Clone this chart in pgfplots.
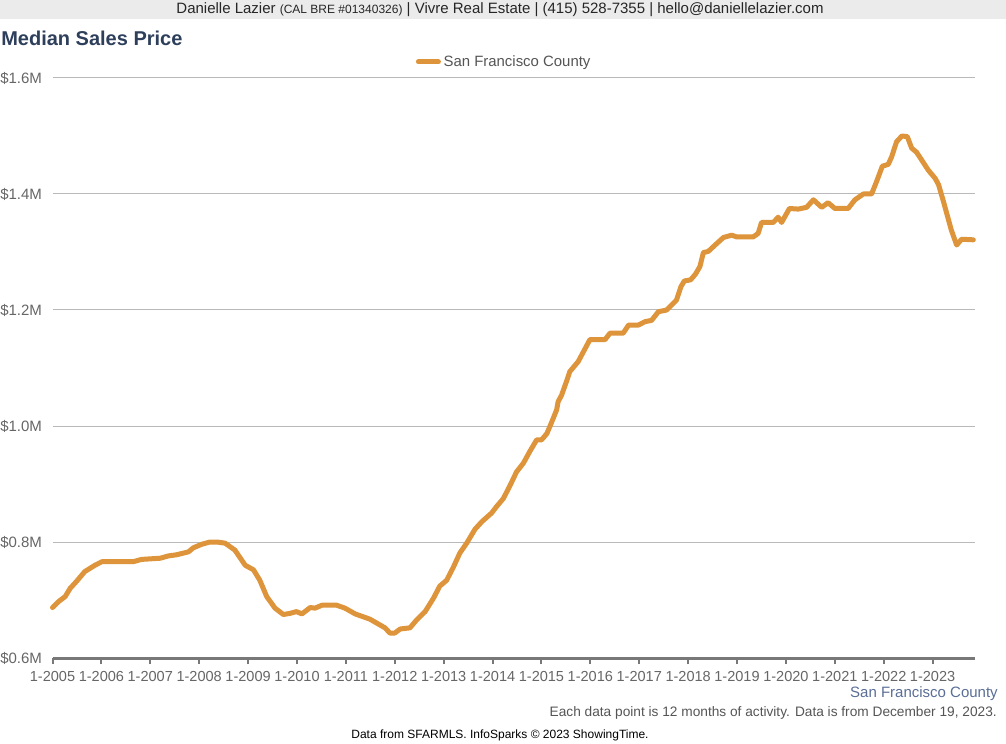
\documentclass[border=0pt]{standalone}
\usepackage{pgfplots}
\pgfplotsset{compat=1.18}
\usepackage{pgfplotstable}
\usepackage{fontspec}
\setmainfont{Liberation Sans}
\definecolor{lineor}{RGB}{221,148,58}
\definecolor{titleblue}{RGB}{46,63,92}
\definecolor{ticktxt}{RGB}{102,102,102}
\definecolor{gridc}{RGB}{185,185,185}
\definecolor{axisc}{RGB}{120,120,120}
\definecolor{headbg}{RGB}{235,235,235}
\definecolor{footblue}{RGB}{90,110,150}
\definecolor{foottxt}{RGB}{85,85,85}

\pgfplotstableread{
x v
2005.00 687
2005.12 697
2005.26 706
2005.36 720
2005.49 732
2005.66 749
2005.87 760
2006.01 766
2006.65 766
2006.82 770
2007.20 772
2007.37 776
2007.54 778
2007.78 783
2007.88 790
2008.05 796
2008.22 800
2008.36 800
2008.53 798
2008.73 786
2008.94 760
2009.11 752
2009.24 734
2009.38 706
2009.55 686
2009.72 675
2009.86 677
2009.99 680
2010.10 676
2010.27 687
2010.37 686
2010.51 691
2010.81 691
2010.98 686
2011.19 676
2011.49 667
2011.80 652
2011.90 643
2012.00 643
2012.11 650
2012.31 652
2012.45 666
2012.62 680
2012.79 703
2012.92 724
2013.06 734
2013.20 757
2013.33 781
2013.47 798
2013.64 822
2013.78 835
2013.98 850
2014.08 861
2014.22 875
2014.36 898
2014.49 921
2014.63 936
2014.76 956
2014.90 976
2015.00 976
2015.11 987
2015.21 1007
2015.31 1028
2015.34 1042
2015.41 1053
2015.52 1079
2015.58 1094
2015.75 1111
2015.99 1149
2016.30 1149
2016.40 1160
2016.67 1160
2016.78 1174
2016.98 1174
2017.12 1180
2017.25 1182
2017.39 1197
2017.56 1200
2017.76 1217
2017.85 1240
2017.92 1250
2018.05 1252
2018.15 1262
2018.24 1275
2018.31 1299
2018.41 1301
2018.55 1312
2018.72 1325
2018.89 1329
2018.99 1326
2019.33 1326
2019.43 1332
2019.50 1351
2019.74 1351
2019.84 1360
2019.91 1351
2020.07 1375
2020.25 1374
2020.42 1377
2020.56 1390
2020.73 1377
2020.86 1385
2021.00 1375
2021.27 1375
2021.41 1390
2021.58 1400
2021.75 1400
2021.85 1421
2021.97 1448
2022.09 1451
2022.16 1464
2022.26 1490
2022.37 1500
2022.48 1499
2022.57 1479
2022.67 1472
2022.81 1454
2022.91 1441
2023.05 1427
2023.12 1416
2023.22 1387
2023.38 1338
2023.49 1312
2023.59 1322
2023.83 1321
}\sfdata

\begin{document}
\begin{tikzpicture}
\begin{scope}[x=0.75pt,y=0.75pt]
\fill[white] (0,0) rectangle (1006,743);
\fill[headbg] (0,723.5) rectangle (1006,743);
\node[anchor=center, inner sep=0pt, text=black!85] at (500,733)
  {\fontsize{11.25}{13}\selectfont Danielle Lazier {\fontsize{9}{11}\selectfont (CAL BRE \#01340326)} | Vivre Real Estate | (415) 528-7355 | hello@daniellelazier.com};
\node[anchor=west, inner sep=0pt, text=titleblue] at (1,705)
  {\fontsize{15}{17}\selectfont\bfseries Median Sales Price};
\node[anchor=east, inner sep=0pt, text=footblue] at (998,49)
  {\fontsize{11.25}{13}\selectfont San Francisco County};
\node[anchor=east, inner sep=0pt, text=foottxt] at (997,30)
  {\fontsize{10.27}{12}\selectfont Each data point is 12 months of activity. Data is from December 19, 2023.};
\node[anchor=center, inner sep=0pt, text=black] at (500,8)
  {\fontsize{9}{11}\selectfont Data from SFARMLS. InfoSparks © 2023 ShowingTime.};
\end{scope}
\begin{axis}[
  at={(39.375pt,63.75pt)}, anchor=south west,
  width=691.875pt, height=435pt, scale only axis,
  xmin=2005, xmax=2023.865,
  ymin=600, ymax=1600,
  clip=false,
  axis x line*=bottom,
  axis y line*=left,
  y axis line style={draw=none},
  x axis line style={draw=axisc, line width=2.25pt},
  xtick={2005,...,2023},
  xticklabels={1-2005,1-2006,1-2007,1-2008,1-2009,1-2010,1-2011,1-2012,1-2013,1-2014,1-2015,1-2016,1-2017,1-2018,1-2019,1-2020,1-2021,1-2022,1-2023},
  xtick align=outside,
  xtick style={draw=axisc, line width=1.5pt},
  major tick length=4.5pt,
  xticklabel style={text=ticktxt, font=\fontsize{10.9}{12}\selectfont, inner sep=0pt, yshift=-5.25pt},
  ytick={600,800,1000,1200,1400,1600},
  yticklabels={\$0.6M,\$0.8M,\$1.0M,\$1.2M,\$1.4M,\$1.6M},
  ytick style={draw=none},
  yticklabel style={anchor=west, inner sep=0pt, xshift=-39.375pt, text=ticktxt, font=\fontsize{11.25}{13}\selectfont},
  ymajorgrids,
  grid style={draw=gridc, line width=0.75pt},
  legend style={at={(0.49,1.0276)}, anchor=center, draw=none, fill=none,
    font=\fontsize{11.2}{13}\selectfont, text=foottxt, inner sep=0pt,
    /tikz/every even column/.append style={column sep=0pt}},
  legend image code/.code={\draw[#1, line width=3.75pt] (0pt,0pt) -- (15pt,0pt);},
  legend cell align=left,
]
\addplot[color=lineor, line width=3.75pt, line join=round, line cap=round] table[x=x, y=v] {\sfdata};
\addlegendentry{San Francisco County}
\end{axis}
\end{tikzpicture}
\end{document}
